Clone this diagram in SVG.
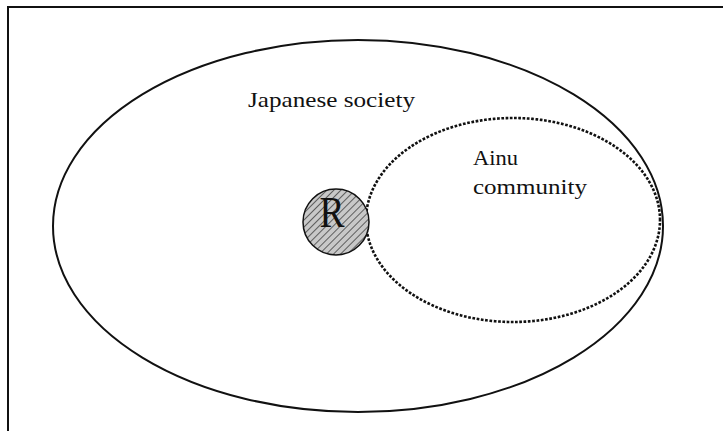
<svg xmlns="http://www.w3.org/2000/svg" width="723" height="431" viewBox="0 0 723 431">
<style>
text{font-family:'Liberation Serif','Times New Roman','DejaVu Serif',serif;fill:#111}
.frame{stroke:#111;stroke-width:2;fill:none}
</style>
<defs>
<pattern id="hatch" patternUnits="userSpaceOnUse" width="5" height="5" patternTransform="rotate(45)">
<rect width="5" height="5" fill="#c8c8c8"/>
<line x1="0" y1="0" x2="0" y2="5" stroke="#222" stroke-width="1.3"/>
</pattern>
</defs>
<rect width="723" height="431" fill="#fff"/>
<g id="frame">
<path class="frame" d="M8,431 V7 H723"/>
</g>
<g id="japanese-society">
<ellipse cx="358" cy="226" rx="305" ry="186" fill="none" stroke="#111" stroke-width="2"/>
<text font-family="Liberation Serif, serif" x="248" y="107" font-size="22" textLength="167" lengthAdjust="spacingAndGlyphs">Japanese society</text>
</g>
<g id="ainu-community">
<ellipse cx="513" cy="220" rx="147" ry="102" fill="none" stroke="#111" stroke-width="2.6" stroke-dasharray="0.1 4.2" stroke-linecap="square"/>
<text font-family="Liberation Serif, serif" x="473" y="165" font-size="21" textLength="45" lengthAdjust="spacingAndGlyphs">Ainu</text>
<text font-family="Liberation Serif, serif" x="473" y="194" font-size="21" textLength="114" lengthAdjust="spacingAndGlyphs">community</text>
</g>
<g id="R">
<circle cx="336" cy="222" r="33" fill="url(#hatch)" stroke="#111" stroke-width="1.5"/>
<text font-family="Liberation Serif, serif" x="332" y="227" font-size="44" text-anchor="middle" textLength="25" lengthAdjust="spacingAndGlyphs">R</text>
</g>
<g id="connectors"></g>
</svg>
